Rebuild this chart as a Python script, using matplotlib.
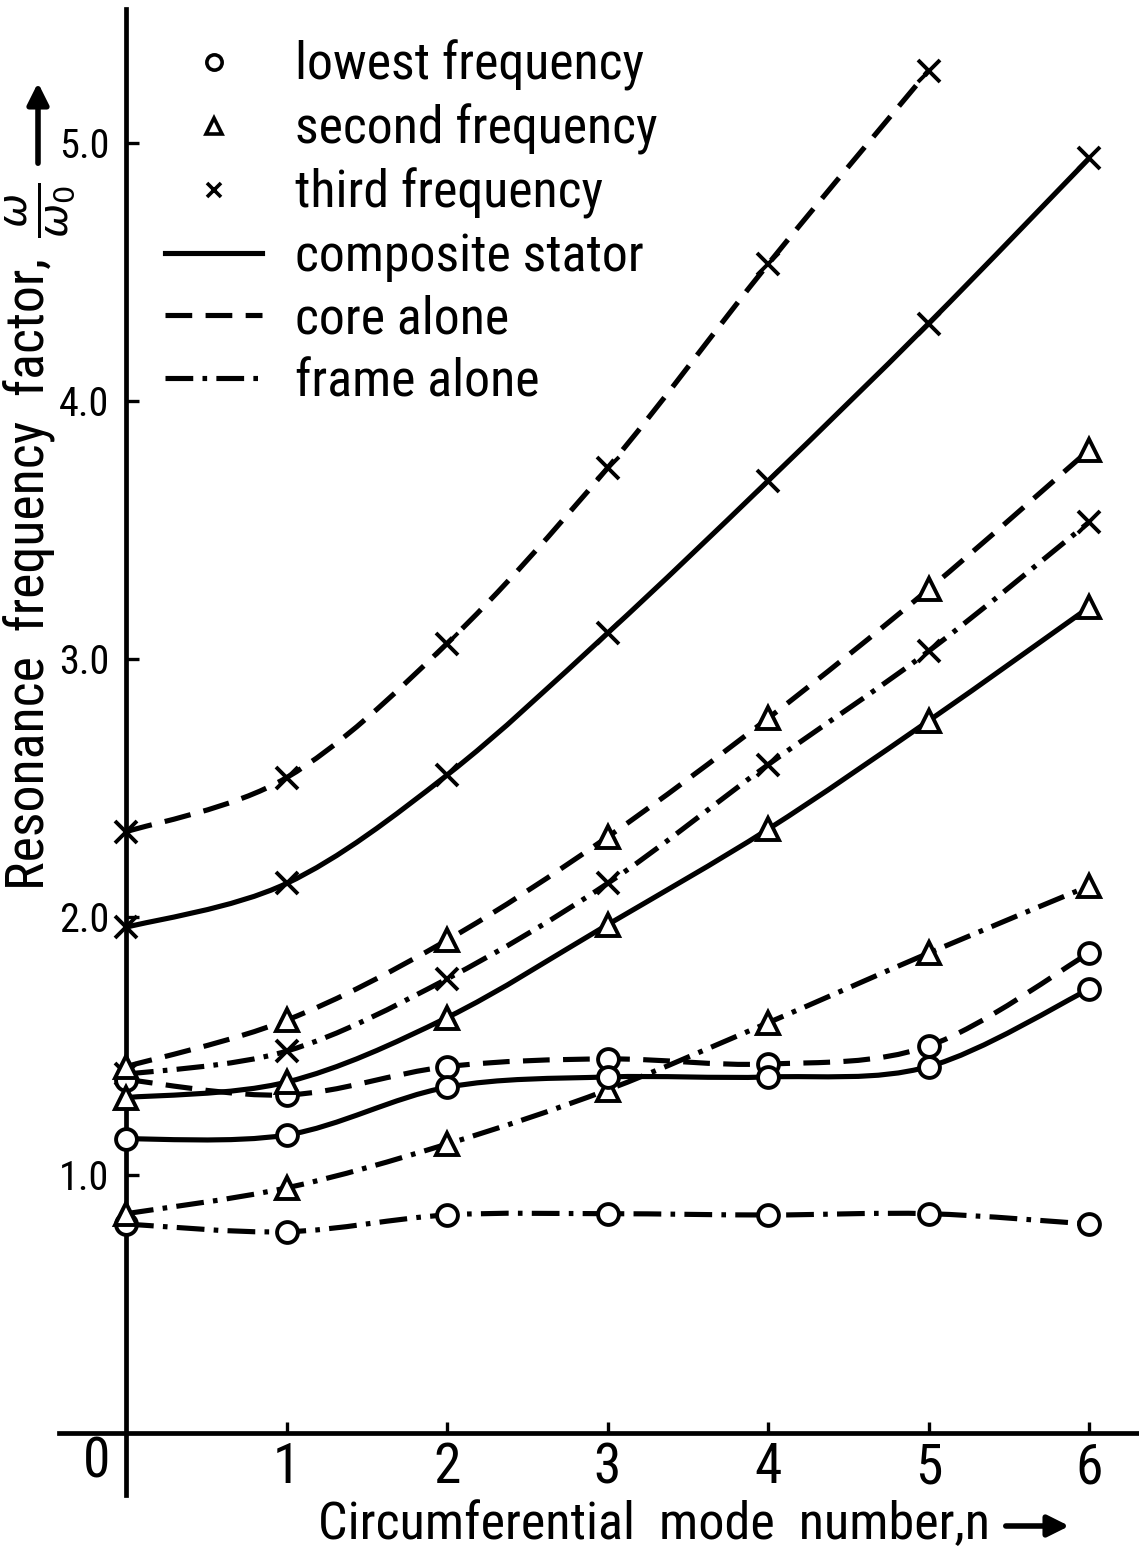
import os
import numpy as np
import matplotlib
matplotlib.use("Agg")
import matplotlib.pyplot as plt
from matplotlib.path import Path
from matplotlib.patches import PathPatch
from matplotlib.lines import Line2D
from matplotlib import font_manager
from matplotlib.font_manager import FontProperties

# mode number n
n = [0, 1, 2, 3, 4, 5, 6]
n_core3 = [0, 1, 2, 3, 4, 5]

# resonance frequency factor w/w0
lowest_comp = [1.14, 1.155, 1.34, 1.38, 1.38, 1.42, 1.72]
lowest_core = [1.37, 1.31, 1.42, 1.45, 1.43, 1.50, 1.86]
lowest_frame = [0.81, 0.78, 0.845, 0.85, 0.845, 0.85, 0.81]
second_comp = [1.30, 1.36, 1.61, 1.97, 2.34, 2.76, 3.20]
second_core = [1.42, 1.60, 1.91, 2.31, 2.77, 3.27, 3.81]
second_frame = [0.85, 0.95, 1.12, 1.33, 1.59, 1.86, 2.12]
third_comp = [1.96, 2.13, 2.55, 3.10, 3.69, 4.30, 4.94]
third_core = [2.33, 2.54, 3.06, 3.74, 4.53, 5.28]
third_frame = [1.39, 1.48, 1.76, 2.13, 2.59, 3.03, 3.53]

xtick_labels = ['1', '2', '3', '4', '5', '6']
ytick_labels = ['1.0', '2.0', '3.0', '4.0', '5.0']
legend_labels = ['lowest frequency', 'second frequency', 'third frequency',
                 'composite stator', 'core alone', 'frame alone']


def pick_font():
    # the scan uses a narrow DIN-like lettering, look for a condensed face
    prefs = ['liberationsansnarrow-regular', 'robotocondensed-regular',
             'dejavusanscondensed.ttf', 'notosans-condensed.ttf',
             'opensans_condensed-regular', 'opensanscondensed-regular']
    files = [f.fname for f in font_manager.fontManager.ttflist]
    for p in prefs:
        for f in files:
            if p in os.path.basename(f).lower():
                return f
    for f in files:
        b = os.path.basename(f).lower()
        if ('narrow' in b or 'condensed' in b) and not any(
                k in b for k in ['bold', 'italic', 'light', 'thin', 'black', 'semi', 'medium', 'extra', 'oblique']):
            return f
    return None


FONT_FILE = pick_font()


def fp(size):
    if FONT_FILE:
        p = FontProperties(fname=FONT_FILE)
    else:
        p = FontProperties(family='DejaVu Sans')
    p.set_size(size)
    return p


W, H = 1139, 1553
fig = plt.figure(figsize=(W/100, H/100), dpi=100)
ax = fig.add_axes([0, 0, 1, 1])
# pixel calibration of the scan: x=0 at 126px, 160.5px per mode; y=0 at 1433px, 258px per unit
ax.set_xlim(-126/160.5, (W-126)/160.5)
ax.set_ylim((1433-H)/258, 1433/258)

LW = 3.7
SOLID = '-'
DASH = (0, (5.2, 2.6))
DASHDOT = (0, (5.4, 1.8, 0.9, 1.8))


def smooth_path(xs, ys):
    # catmull-rom through the points, as cubic bezier segments
    pts = np.column_stack([xs, ys]).astype(float)
    ext = np.vstack([pts[0], pts, pts[-1]])
    verts = [pts[0]]
    codes = [Path.MOVETO]
    for i in range(len(pts) - 1):
        p0, p1, p2, p3 = ext[i], ext[i+1], ext[i+2], ext[i+3]
        verts += [p1 + (p2 - p0)/6, p2 - (p3 - p1)/6, p2]
        codes += [Path.CURVE4]*3
    return Path(verts, codes)


def curve(xs, ys, ls, marker):
    ax.add_patch(PathPatch(smooth_path(xs, ys), fill=False, lw=LW, ls=ls,
                           ec='black', capstyle='butt', joinstyle='round', zorder=2))
    ms = {'^': 16, 'o': 15, 'x': 16}[marker]
    ax.plot(xs, ys, ls='none', marker=marker, ms=ms, mew=2.8, mec='black',
            mfc='white', zorder=3)


curve(n, lowest_frame, DASHDOT, 'o')
curve(n, second_frame, DASHDOT, '^')
curve(n, third_frame, DASHDOT, 'x')
curve(n, lowest_core, DASH, 'o')
curve(n, second_core, DASH, '^')
curve(n_core3, third_core, DASH, 'x')
curve(n, lowest_comp, SOLID, 'o')
curve(n, second_comp, SOLID, '^')
curve(n, third_comp, SOLID, 'x')

# axes drawn through the origin like the original
for s in ['top', 'right']:
    ax.spines[s].set_visible(False)
for s in ['left', 'bottom']:
    ax.spines[s].set_position(('data', 0))
    ax.spines[s].set_linewidth(3.4)
    ax.spines[s].set_zorder(1)
ax.spines['left'].set_bounds(-0.24, 5.52)
ax.spines['bottom'].set_bounds(-0.42, 6.30)

ax.set_xticks([1, 2, 3, 4, 5, 6])
ax.set_xticklabels(xtick_labels, fontproperties=fp(40))
ax.set_yticks([1, 2, 3, 4, 5])
ax.set_yticklabels(ytick_labels, fontproperties=fp(29))
ax.tick_params(axis='x', direction='in', length=8, width=2.4, pad=6)
ax.tick_params(axis='y', direction='in', length=9, width=2.4, pad=12)

fig.text(97/W, 1-1462/H, '0', fontproperties=fp(40), ha='center', va='center')

# axis titles
xlab = fig.text(318/W, 1-1525/H, 'Circumferential  mode  number,n', fontproperties=fp(42),
                ha='left', va='center')
ax.annotate('', xy=(1072, H-1526), xycoords='figure pixels',
            xytext=(1003, H-1526), textcoords='figure pixels',
            arrowprops=dict(arrowstyle='-|>', lw=4, mutation_scale=32, color='black'))

ylab = fig.text(30/W, 1-890/H, 'Resonance  frequency  factor,', fontproperties=fp(40),
                rotation=90, ha='center', va='bottom')
fig.text(40/W, 1-210/H, r'$\frac{\omega}{\omega_0}$', fontsize=42,
         rotation=90, ha='center', va='center')
ax.annotate('', xy=(38, H-80), xycoords='figure pixels',
            xytext=(38, H-166), textcoords='figure pixels',
            arrowprops=dict(arrowstyle='-|>', lw=4, mutation_scale=32, color='black'))

# legend
handles = [
    Line2D([], [], ls='none', marker='o', ms=11, mew=2.6, mec='black', mfc='white'),
    Line2D([], [], ls='none', marker='^', ms=11, mew=2.6, mec='black', mfc='white'),
    Line2D([], [], ls='none', marker='x', ms=10, mew=2.6, color='black'),
    Line2D([], [], color='black', lw=LW, ls=SOLID),
    Line2D([], [], color='black', lw=LW, ls=DASH),
    Line2D([], [], color='black', lw=LW, ls=DASHDOT),
]


def add_legend(size, spacing):
    fs_px = size * 100 / 72
    return ax.legend(handles, legend_labels, loc='upper left',
                     bbox_to_anchor=(165/W, 1-40/H), frameon=False, prop=fp(size),
                     handlelength=97/fs_px, handletextpad=33/fs_px, labelspacing=spacing,
                     borderpad=0, borderaxespad=0)


# size the texts to the lengths they have in the scan
fig.canvas.draw()
r = fig.canvas.get_renderer()
xw = xlab.get_window_extent(r).width
xlab.set_fontsize(42 * 672 / xw)
yh = ylab.get_window_extent(r).height
ylab.set_fontsize(40 * 630 / yh)

leg = add_legend(36, 0.3)
fig.canvas.draw()
lw0 = leg.get_texts()[0].get_window_extent(r).width
size = 36 * 350 / lw0
leg.remove()
leg = add_legend(size, 0.3)
fig.canvas.draw()
th = leg.get_texts()[0].get_window_extent(r).height
fs_px = size * 100 / 72
leg.remove()
add_legend(size, max(0.0, (64 - th) / fs_px))

fig.savefig('out.png', dpi=100, facecolor='white')
